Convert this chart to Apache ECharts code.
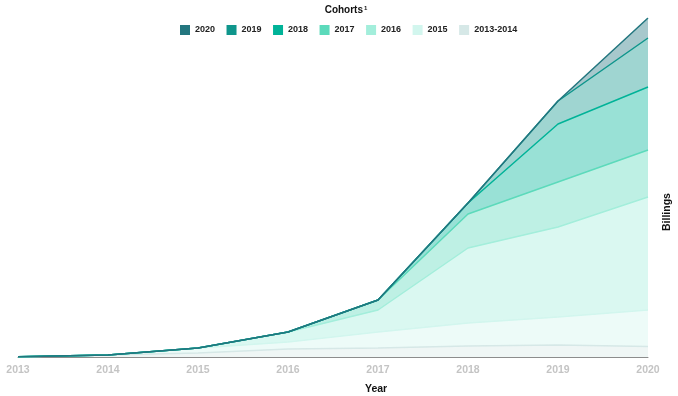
<!DOCTYPE html>
<html lang="en" style="height: 100%">
<head>
    <meta charset="utf-8">
    <title>Billings by cohort</title>
    <script src="https://cdn.jsdelivr.net/npm/echarts@6/dist/echarts.min.js"></script>
    <style>
        html, body { margin: 0; padding: 0; background: #fff; }
        #chart { width: 678px; height: 396px; }
    </style>
</head>
<body>
<div id="chart"></div>
<script>
    // years on the x axis
    const years = ['2013', '2014', '2015', '2016', '2017', '2018', '2019', '2020'];

    // billings per cohort (arbitrary units)
    const cohort2013_2014 = [0.3, 2, 4, 8, 9, 11, 12, 10.5];
    const cohort2015 = [0, 0, 5, 7, 16, 23, 28, 36.5];
    const cohort2016 = [0, 0, 0, 10, 22, 75, 90, 113];
    const cohort2017 = [0, 0, 0, 0, 10, 34, 45, 47];
    const cohort2018 = [0, 0, 0, 0, 0, 11, 58, 63];
    const cohort2019 = [0, 0, 0, 0, 0, 0, 23, 49];
    const cohort2020 = [0, 0, 0, 0, 0, 0, 0, 20];

    const cohortNames = ['2013-2014', '2015', '2016', '2017', '2018', '2019', '2020'];
    const cohortData = [cohort2013_2014, cohort2015, cohort2016, cohort2017, cohort2018, cohort2019, cohort2020];
    const cohortColors = ['#d6e8e7', '#d2f6ee', '#a3eedb', '#5cdabb', '#00b398', '#0f968c', '#23767f'];

    const font = 'Arial, "Liberation Sans", sans-serif';

    const chart = echarts.init(document.getElementById('chart'));

    const series = cohortNames.map((name, i) => ({
        name: name,
        type: 'line',
        stack: 'billings',
        data: cohortData[i],
        symbol: 'none',
        color: cohortColors[i],
        itemStyle: { color: cohortColors[i] },
        lineStyle: { color: cohortColors[i], width: 1.5 },
        areaStyle: { color: cohortColors[i], opacity: 0.4 },
        emphasis: { disabled: true },
        animation: false
    }));

    chart.setOption({
        animation: false,
        title: {
            text: '{t|Cohorts}{s|1}',
            left: 341,
            top: 0,
            textAlign: 'center',
            textStyle: {
                rich: {
                    t: { fontFamily: font, fontSize: 10, fontWeight: 'bold', color: '#111' },
                    s: { fontFamily: font, fontSize: 6, color: '#111', verticalAlign: 'top', padding: [0, 0, 5, 1] }
                }
            }
        },
        legend: {
            data: cohortNames.slice().reverse(),
            left: 180,
            top: 25,
            padding: 0,
            icon: 'rect',
            itemWidth: 10,
            itemHeight: 10,
            itemGap: 11.5,
            textStyle: { fontFamily: font, fontSize: 9, fontWeight: 'bold', color: '#222' }
        },
        grid: { left: 18, right: 30, top: 18, bottom: 39, containLabel: false },
        xAxis: {
            type: 'category',
            data: years,
            boundaryGap: false,
            axisLine: { lineStyle: { color: '#8c8c8c', width: 1 } },
            axisTick: { show: false },
            axisLabel: { color: '#c4c4c4', fontFamily: font, fontSize: 10.5, fontWeight: 'bold', margin: 8 },
            splitLine: { show: false }
        },
        yAxis: {
            type: 'value',
            min: 0,
            max: 'dataMax',
            axisLine: { show: false },
            axisTick: { show: false },
            axisLabel: { show: false },
            splitLine: { show: false }
        },
        graphic: [
            {
                type: 'text',
                left: 365,
                top: 384,
                style: { text: 'Year', font: 'bold 10.5px ' + font, fill: '#111' }
            },
            {
                type: 'text',
                x: 667,
                y: 212,
                rotation: Math.PI / 2,
                style: { text: 'Billings', font: 'bold 10.5px ' + font, fill: '#111', align: 'center', verticalAlign: 'middle' }
            }
        ],
        series: series
    });
</script>
</body>
</html>
